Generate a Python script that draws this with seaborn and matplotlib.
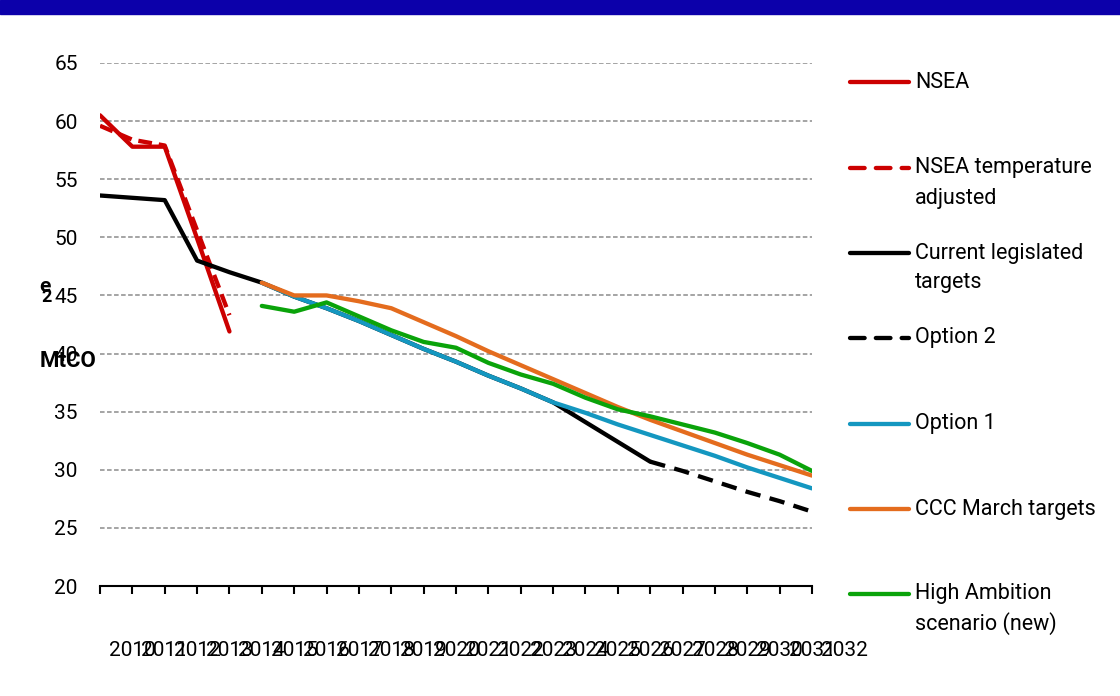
import numpy as np
import pandas as pd
import matplotlib
matplotlib.use("Agg")
import matplotlib.pyplot as plt
import matplotlib.transforms as mtransforms
from matplotlib.lines import Line2D
from matplotlib.patches import Rectangle
import seaborn as sns

# ---- data (MtCO2e) ----
years = list(range(2010, 2033))
year_labels = [str(y) for y in years]

nsea_years = [2010, 2011, 2012, 2013, 2014]
nsea = [60.5, 57.8, 57.8, 49.9, 41.9]

nsea_temp_years = [2010, 2011, 2012, 2013, 2014]
nsea_temp = [59.6, 58.4, 57.9, 50.6, 43.3]

current_years = list(range(2010, 2028))
current = [53.6, 53.4, 53.2, 48.0, 47.0, 46.1, 44.9, 43.9, 42.8, 41.6,
           40.4, 39.3, 38.1, 37.0, 35.8, 34.1, 32.4, 30.7]

option2_years = list(range(2027, 2033))
option2 = [30.7, 29.9, 29.0, 28.1, 27.3, 26.4]

option1_years = list(range(2015, 2033))
option1 = [46.1, 44.9, 43.9, 42.8, 41.6, 40.4, 39.3, 38.1, 37.0, 35.8,
           34.9, 33.9, 33.0, 32.1, 31.2, 30.2, 29.3, 28.4]

ccc_years = list(range(2015, 2033))
ccc = [46.1, 45.0, 45.0, 44.5, 43.9, 42.7, 41.5, 40.2, 39.0, 37.8,
       36.6, 35.4, 34.3, 33.3, 32.3, 31.3, 30.4, 29.5]

high_years = list(range(2015, 2033))
high = [44.1, 43.6, 44.4, 43.2, 42.0, 41.0, 40.5, 39.2, 38.2, 37.4,
        36.2, 35.2, 34.6, 33.9, 33.2, 32.3, 31.3, 29.9]

series_names = ["NSEA", "NSEA temperature\nadjusted", "Current legislated\ntargets",
                "Option 2", "Option 1", "CCC March targets",
                "High Ambition\nscenario (new)"]
series_years = [nsea_years, nsea_temp_years, current_years, option2_years,
                option1_years, ccc_years, high_years]
series_vals = [nsea, nsea_temp, current, option2, option1, ccc, high]
series_colors = ["#cc0000", "#cc0000", "#000000", "#000000",
                 "#1497c0", "#e46c1e", "#0aa30a"]
series_dash = [None, (0, (3.2, 1.6)), None, (0, (3.6, 2.2)), None, None, None]

sns.set_theme(style="white")
plt.rcParams["font.family"] = ["Roboto", "DejaVu Sans"]

fig = plt.figure(figsize=(11.2, 6.96), dpi=100)
ax = fig.add_axes([100 / 1120, 1 - 586 / 696, 712 / 1120, (586 - 63) / 696])

lw = 3.1
for name, xs, vs, col, dash in zip(series_names, series_years, series_vals,
                                   series_colors, series_dash):
    df = pd.DataFrame({"year": xs, "value": vs})
    kw = dict(color=col, linewidth=lw, solid_capstyle="round",
              solid_joinstyle="round", dash_capstyle="butt")
    if dash is not None:
        kw["linestyle"] = dash
    sns.lineplot(data=df, x="year", y="value", ax=ax, legend=False, **kw)

ax.set_xlim(2010, 2032)
ax.set_ylim(20, 65)
ax.set_yticks(np.arange(20, 66, 5))
ax.set_xticks(years)
ax.set_xticklabels(year_labels)
ax.set_xlabel("")
ax.set_ylabel("")

# dashed horizontal grid
for v in np.arange(25, 66, 5):
    ax.axhline(v, color="#8c8c8c", linewidth=1.1, linestyle=(0, (3, 1.6)), zorder=0)
ax.grid(False)

for s in ["top", "right", "left"]:
    ax.spines[s].set_visible(False)
ax.spines["bottom"].set_color("black")
ax.spines["bottom"].set_linewidth(1.5)

ax.tick_params(axis="x", direction="out", length=5.5, width=1.5, color="black",
               pad=34, labelsize=15, labelcolor="black", bottom=True)
ax.tick_params(axis="y", length=0, pad=16, labelsize=15, labelcolor="black")

# x labels sit one category step to the right of their tick
step_in = (712 / 1120) * 11.2 / (len(years) - 1)
shift = mtransforms.ScaledTranslation(step_in, 0, fig.dpi_scale_trans)
for lbl in ax.get_xticklabels():
    lbl.set_transform(lbl.get_transform() + shift)

# y-axis unit label
fig.text(40 / 1120, 1 - 361 / 696, "MtCO", fontsize=16, fontweight="bold",
         ha="left", va="center", color="black")
fig.text(39 / 1120, 1 - 286 / 696, "e", fontsize=15, fontweight="bold",
         ha="left", va="center", color="black")
fig.text(41 / 1120, 1 - 297 / 696, "2", fontsize=13, fontweight="bold",
         ha="left", va="center", color="black")

# header band
fig.patches.append(Rectangle((0, 1 - 14 / 696), 1, 14 / 696, transform=fig.transFigure,
                             color="#0c00aa", zorder=5))

# legend: handle level with the first text line, further lines below
entry_y = [82, 168, 253, 338, 424, 509, 594]
line_gap = 30
for name, col, dash, yy in zip(series_names, series_colors, series_dash, entry_y):
    yf = 1 - yy / 696
    kw = dict(color=col, linewidth=lw, solid_capstyle="round", dash_capstyle="round")
    if dash is not None:
        kw["linestyle"] = (0, (3.4, 2.6))
    fig.add_artist(Line2D([850 / 1120, 909 / 1120], [yf, yf], transform=fig.transFigure, **kw))
    for i, part in enumerate(name.split("\n")):
        fig.text(915 / 1120, 1 - (yy + i * line_gap) / 696, part, fontsize=15.5,
                 ha="left", va="center", color="black")

fig.savefig("out.png", dpi=100)
